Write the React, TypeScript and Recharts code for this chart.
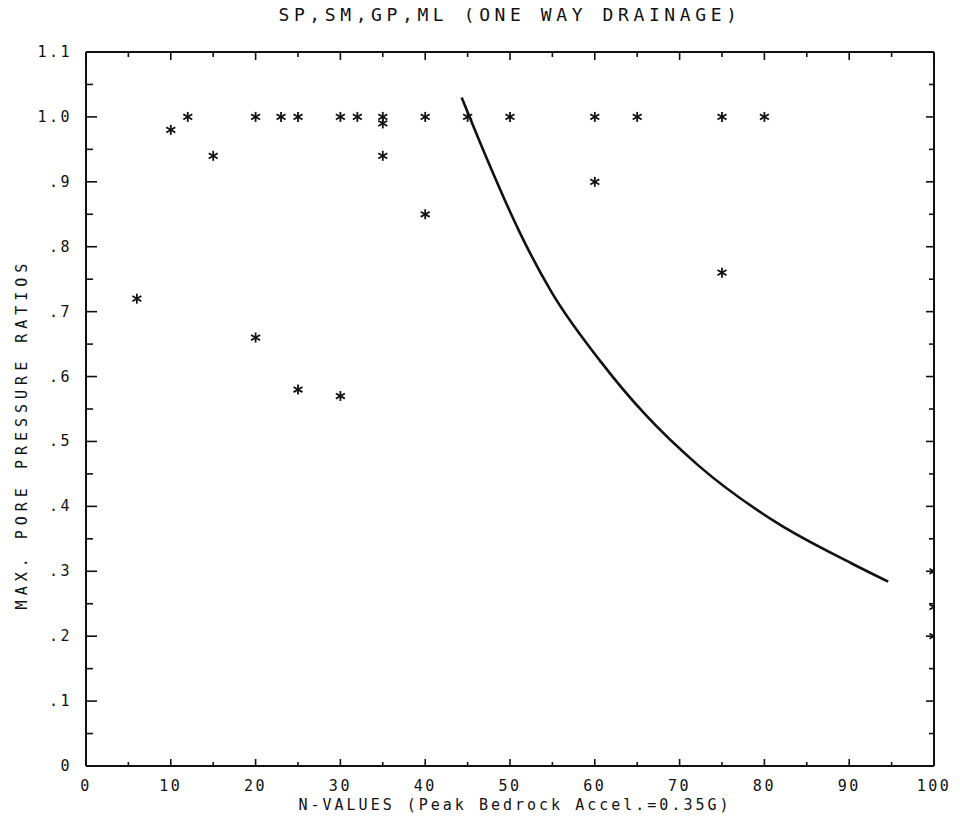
import React from "react";
import { ComposedChart, Scatter, XAxis, YAxis } from "recharts";

// measured points (N-value, max pore pressure ratio)
const nValues = [6, 10, 12, 15, 20, 20, 23, 25, 25, 30, 30, 32, 35, 35, 35, 40, 40, 45, 50, 60, 60, 65, 75, 75, 80, 100, 100, 100];
const ratios = [0.72, 0.98, 1.0, 0.94, 1.0, 0.66, 1.0, 1.0, 0.58, 1.0, 0.57, 1.0, 1.0, 0.99, 0.94, 1.0, 0.85, 1.0, 1.0, 1.0, 0.9, 1.0, 1.0, 0.76, 1.0, 0.3, 0.245, 0.2];

// boundary curve
const curveN = [44.3, 47.2, 51.0, 54.9, 60.7, 65.7, 72.3, 81.3, 90.3, 94.6];
const curveRatio = [1.03, 0.938, 0.826, 0.73, 0.623, 0.545, 0.462, 0.376, 0.312, 0.284];

const xTicks = [0, 5, 10, 15, 20, 25, 30, 35, 40, 45, 50, 55, 60, 65, 70, 75, 80, 85, 90, 95, 100];
const yTicks = [0, 0.05, 0.1, 0.15, 0.2, 0.25, 0.3, 0.35, 0.4, 0.45, 0.5, 0.55, 0.6, 0.65, 0.7, 0.75, 0.8, 0.85, 0.9, 0.95, 1.0, 1.05, 1.1];
const yTickLabels = ["0", ".1", ".2", ".3", ".4", ".5", ".6", ".7", ".8", ".9", "1.0", "1.1"];

const points = nValues.map((n, i) => ({ n, r: ratios[i] }));
const curve = curveN.map((n, i) => ({ n, r: curveRatio[i] }));

const FONT = "'DejaVu Sans Mono', monospace";

const Star = (props: any) => {
  const { cx, cy } = props;
  if (cx == null || cy == null) return null;
  return (
    <g stroke="#111" strokeWidth={1.8}>
      <line x1={cx} y1={cy - 5} x2={cx} y2={cy + 5} />
      <line x1={cx - 4.5} y1={cy - 2.6} x2={cx + 4.5} y2={cy + 2.6} />
      <line x1={cx - 4.5} y1={cy + 2.6} x2={cx + 4.5} y2={cy - 2.6} />
    </g>
  );
};

const BottomTick = (props: any) => {
  const { x, y, payload } = props;
  const v = payload.value;
  const major = v % 10 === 0;
  return (
    <g>
      <line x1={x} x2={x} y1={y} y2={y - (major ? 7 : 4)} stroke="#111" strokeWidth={1.6} />
      {major && (
        <text x={x} y={y + 20} textAnchor="middle" dominantBaseline="central" fontFamily={FONT} fontSize={15} letterSpacing={2.5} fill="#111">
          {v}
        </text>
      )}
    </g>
  );
};

const TopTick = (props: any) => {
  const { x, y, payload } = props;
  const major = payload.value % 10 === 0;
  return <line x1={x} x2={x} y1={y} y2={y + (major ? 8 : 5)} stroke="#111" strokeWidth={1.6} />;
};

const LeftTick = (props: any) => {
  const { x, y, payload } = props;
  const k = Math.round(payload.value * 100);
  const major = k % 10 === 0;
  return (
    <g>
      <line x1={x} x2={x + (major ? 11 : 7)} y1={y} y2={y} stroke="#111" strokeWidth={1.6} />
      {major && (
        <text x={x - 14} y={y} textAnchor="end" dominantBaseline="central" fontFamily={FONT} fontSize={15} letterSpacing={2.5} fill="#111">
          {yTickLabels[k / 10]}
        </text>
      )}
    </g>
  );
};

const RightTick = (props: any) => {
  const { x, y, payload } = props;
  const major = Math.round(payload.value * 100) % 10 === 0;
  return <line x1={x} x2={x - (major ? 8 : 5)} y1={y} y2={y} stroke="#111" strokeWidth={1.6} />;
};

export default function App() {
  return (
    <div style={{ position: "relative", width: 944, height: 808, background: "#fff" }}>
      <div
        style={{
          position: "absolute",
          left: 502,
          top: 6,
          transform: "translate(-50%, -50%)",
          whiteSpace: "nowrap",
          fontFamily: FONT,
          fontSize: 18,
          letterSpacing: 4.6,
          color: "#111",
        }}
      >
        SP,SM,GP,ML (ONE WAY DRAINAGE)
      </div>
      <ComposedChart width={944} height={808} margin={{ top: 34, right: 8, bottom: 20, left: 38 }}>
        <XAxis
          xAxisId="b"
          type="number"
          dataKey="n"
          domain={[0, 100]}
          allowDataOverflow
          ticks={xTicks}
          interval={0}
          height={30}
          tickSize={0}
          tickMargin={0}
          tick={<BottomTick />}
          axisLine={{ stroke: "#111", strokeWidth: 2 }}
        />
        <XAxis
          xAxisId="t"
          orientation="top"
          type="number"
          dataKey="n"
          domain={[0, 100]}
          allowDataOverflow
          ticks={xTicks}
          interval={0}
          height={10}
          tickSize={0}
          tickMargin={0}
          tick={<TopTick />}
          axisLine={{ stroke: "#111", strokeWidth: 2 }}
        />
        <YAxis
          yAxisId="l"
          type="number"
          dataKey="r"
          domain={[0, 1.1]}
          allowDataOverflow
          ticks={yTicks}
          interval={0}
          width={40}
          tickSize={0}
          tickMargin={0}
          tick={<LeftTick />}
          axisLine={{ stroke: "#111", strokeWidth: 2 }}
        />
        <YAxis
          yAxisId="r"
          orientation="right"
          type="number"
          dataKey="r"
          domain={[0, 1.1]}
          allowDataOverflow
          ticks={yTicks}
          interval={0}
          width={10}
          tickSize={0}
          tickMargin={0}
          tick={<RightTick />}
          axisLine={{ stroke: "#111", strokeWidth: 2 }}
        />
        <Scatter
          xAxisId="b"
          yAxisId="l"
          data={curve}
          dataKey="r"
          line={{ stroke: "#111", strokeWidth: 2.6 }}
          lineJointType="monotoneX"
          shape={() => null}
          isAnimationActive={false}
        />
        <Scatter xAxisId="b" yAxisId="l" data={points} dataKey="r" shape={<Star />} isAnimationActive={false} />
      </ComposedChart>
      <div
        style={{
          position: "absolute",
          left: 14,
          top: 426,
          transform: "translate(-50%, -50%) rotate(-90deg)",
          whiteSpace: "nowrap",
          fontFamily: FONT,
          fontSize: 15,
          letterSpacing: 5,
          color: "#111",
        }}
      >
        MAX. PORE PRESSURE RATIOS
      </div>
      <div
        style={{
          position: "absolute",
          left: 507,
          top: 797,
          transform: "translate(-50%, -50%)",
          whiteSpace: "nowrap",
          fontFamily: FONT,
          fontSize: 15,
          letterSpacing: 3,
          color: "#111",
        }}
      >
        N-VALUES (Peak Bedrock Accel.=0.35G)
      </div>
    </div>
  );
}
